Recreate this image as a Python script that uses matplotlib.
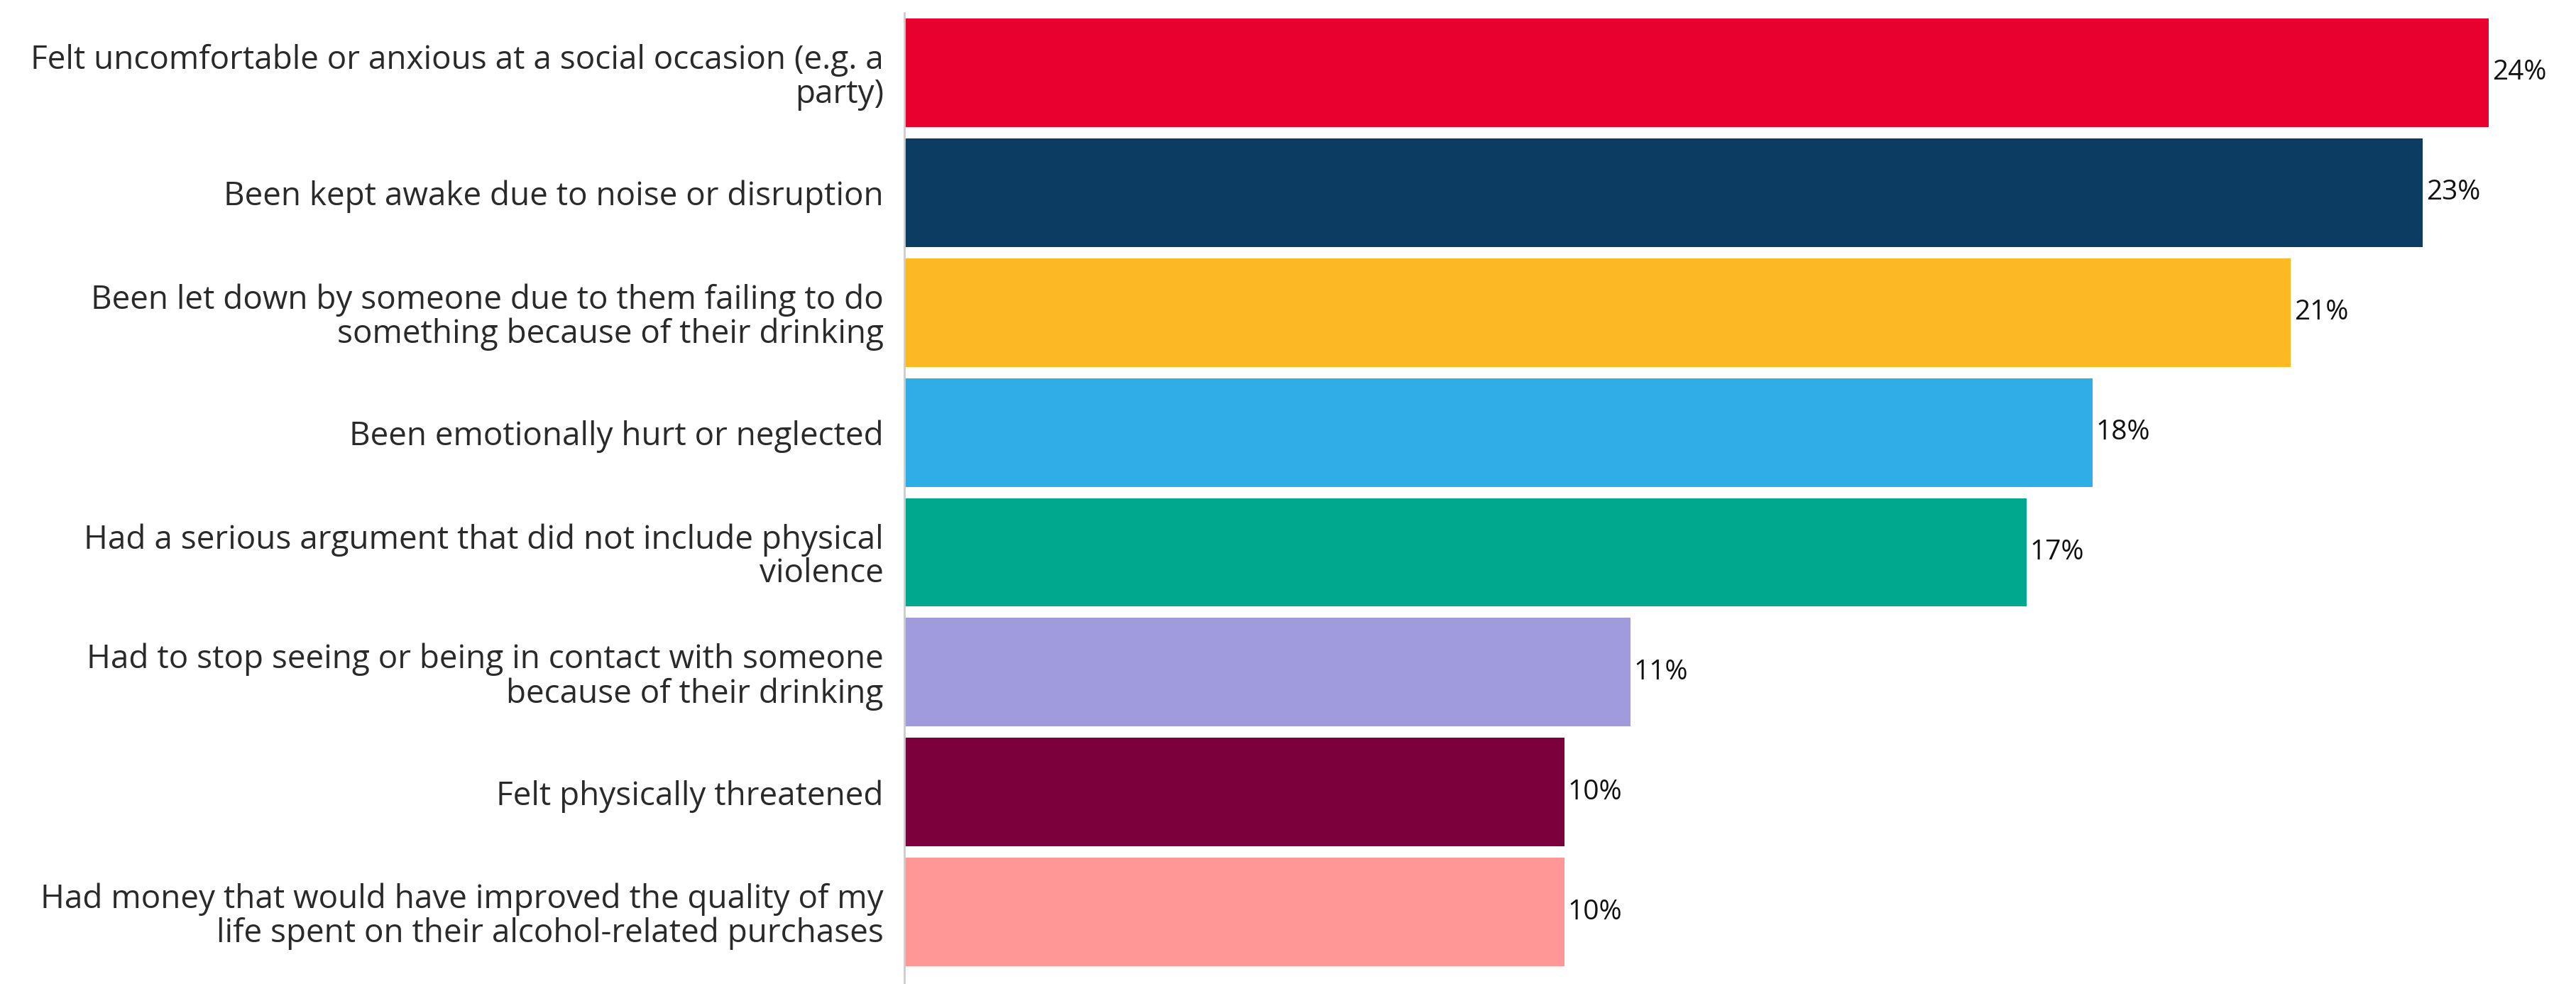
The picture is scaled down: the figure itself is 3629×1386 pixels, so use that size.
import matplotlib.pyplot as plt
import numpy as np

categories = [
    "Felt uncomfortable or anxious at a social occasion (e.g. a\nparty)",
    "Been kept awake due to noise or disruption",
    "Been let down by someone due to them failing to do\nsomething because of their drinking",
    "Been emotionally hurt or neglected",
    "Had a serious argument that did not include physical\nviolence",
    "Had to stop seeing or being in contact with someone\nbecause of their drinking",
    "Felt physically threatened",
    "Had money that would have improved the quality of my\nlife spent on their alcohol-related purchases",
]
values = [24, 23, 21, 18, 17, 11, 10, 10]
colors = ["#E8002F", "#0D3C63", "#FDB924", "#2EAEE4",
          "#00A88E", "#A09BDC", "#7B003C", "#FF9797"]

plt.rcParams['font.family'] = ['Open Sans', 'DejaVu Sans']

fig = plt.figure(figsize=(36.3, 13.86), dpi=100)
W, H = 3630, 1386
x0 = 1274
ax = fig.add_axes([x0 / W, 0, 1 - x0 / W, 1 - 18 / H])

y = np.arange(len(values))
ax.barh(y, values, height=0.905, color=colors)

for yi, v in zip(y, values):
    ax.text(v + 0.05, yi, f"{v}%", va='center', ha='left',
            fontsize=28, color='#111111')

ax.set_xlim(0, (W - x0) / 93.0)
ax.set_ylim(7.6, -0.5)
ax.set_yticks(y)
ax.set_yticklabels(categories, fontsize=33, color='#2a2a2a',
                   linespacing=1.05)
ax.tick_params(axis='y', length=0, pad=21)
ax.set_xticks([])

for s in ['top', 'right', 'bottom']:
    ax.spines[s].set_visible(False)
ax.spines['left'].set_color('#cccccc')
ax.spines['left'].set_linewidth(2)

plt.savefig("out.png", dpi=100)
